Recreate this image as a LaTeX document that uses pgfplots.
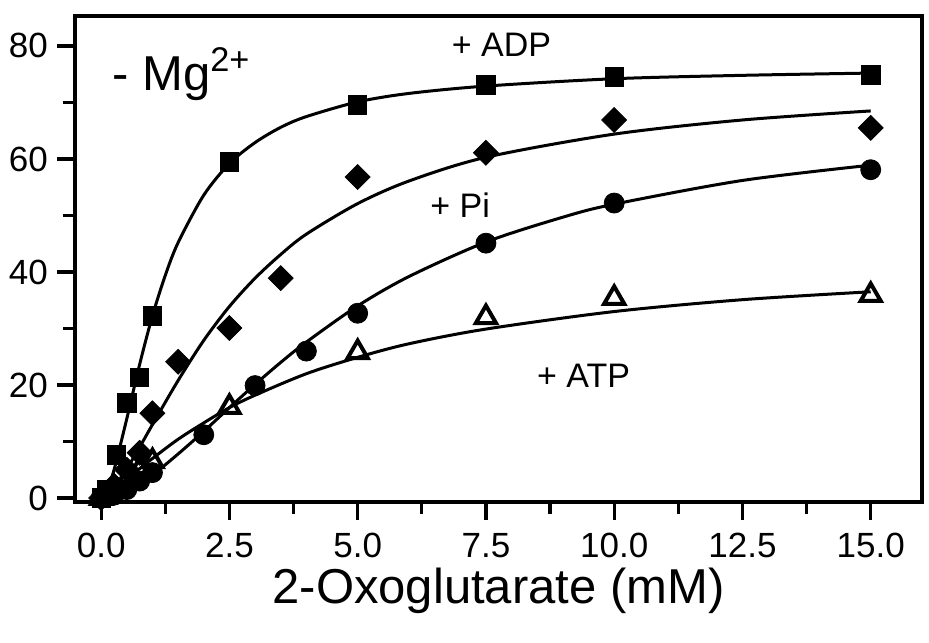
\documentclass[border=0pt]{standalone}
\usepackage{fontspec}
\setmainfont{Liberation Sans}
\usepackage{pgfplots}
\pgfplotsset{compat=1.18}

\begin{document}
\begin{tikzpicture}
\begin{axis}[
  name=ax,
  scale only axis, width=423.5pt, height=243pt,
  xmin=-0.51, xmax=16.0, ymin=-0.7, ymax=85.3,
  xtick={0,2.5,...,15}, ytick={0,20,...,80},
  minor x tick num=1, minor y tick num=1,
  tick align=outside, xtick pos=bottom, ytick pos=left,
  major tick length=9pt, minor tick length=6pt,
  axis line style={line width=2pt},
  every tick/.style={line width=1.6pt, black},
  tick label style={font=\fontsize{17.5}{20}\selectfont},
  yticklabel style={xshift=-1pt},
  x tick label style={yshift=-3pt, /pgf/number format/.cd, fixed, fixed zerofill, precision=1},
  /pgf/number format/assume math mode=true,
  xlabel={2-Oxoglutarate (mM)},
  xlabel style={font=\fontsize{24.5}{28}\selectfont, yshift=2pt},
  clip=false,
]
% + ADP
\addplot[black, smooth, line width=1.5pt] coordinates {
  (0,0) (0.1,1.1) (0.25,4.95) (0.5,14.05) (0.75,23.65) (1,32.26) (1.25,39.4)
  (1.5,45.2) (2,53.6) (2.5,59.2) (3,62.9) (3.5,65.6) (4,67.5) (5,70.1)
  (6,71.6) (7.5,72.9) (10,74.2) (12.5,74.8) (15,75.2)
};
\addplot[only marks, mark=square*, mark size=4.6pt, black] coordinates {
  (0,0) (0.1,1.5) (0.3,7.6) (0.5,16.8) (0.75,21.4) (1,32.2) (2.5,59.5)
  (5,69.6) (7.5,73.1) (10,74.5) (15,74.9)
};
% + Pi
\addplot[black, smooth, line width=1.5pt] coordinates {
  (0,0) (0.1,0.5) (0.25,1.92) (0.5,5.19) (0.75,9.01) (1,13.0) (1.5,20.8)
  (2,27.9) (2.5,33.9) (3,38.9) (3.5,43.1) (4,46.7) (5,52.1) (6,56.1)
  (7.5,60.3) (10,64.4) (12.5,66.9) (15,68.5)
};
\addplot[only marks, mark=square*, mark options={rotate=45}, mark size=4.4pt, black] coordinates {
  (0,0) (0.25,2.2) (0.5,5.0) (0.75,8.0) (1,15.0) (1.5,24.1) (2.5,30.1)
  (3.5,38.9) (5,56.8) (7.5,61.1) (10,66.9) (15,65.5)
};
% control (circles)
\addplot[black, smooth, line width=1.5pt] coordinates {
  (0,0) (0.25,0.41) (0.5,1.33) (1,4.1) (1.5,7.8) (2,11.8) (2.5,16.0)
  (3,20.1) (3.5,24.0) (4,27.6) (5,34.0) (6,39.2) (7.5,45.3) (9,49.7)
  (10,52.0) (12.5,56.2) (15,58.9)
};
\addplot[only marks, mark=*, mark size=5pt, black] coordinates {
  (0,0) (0.25,0.5) (0.5,1.5) (0.75,3.0) (1,4.5) (2,11.2) (3,19.9)
  (4,26.0) (5,32.7) (7.5,45.1) (10,52.2) (15,58.1)
};
% + ATP
\addplot[black, smooth, line width=1.5pt] coordinates {
  (0,0) (0.25,1.5) (0.5,3.35) (0.75,5.2) (1,7.0) (1.5,10.4) (2,13.3)
  (2.5,16.0) (3,18.2) (4,22.0) (5,24.9) (6,27.3) (7.5,29.9) (10,33.0)
  (12.5,35.1) (15,36.5)
};
\addplot[only marks, mark=triangle, mark size=5.8pt, mark options={line width=2pt, fill=white}, black] coordinates {
  (0,0) (0.25,1.5) (0.5,3.0) (0.75,5.0) (1,6.5) (2.5,16.1) (5,25.8)
  (7.5,32.0) (10,35.4) (15,35.9)
};
\node[anchor=base west, font=\fontsize{24.5}{28}\selectfont] at (axis cs:0.08,72.2) {- Mg\textsuperscript{2+}};
\node[anchor=base west, font=\fontsize{17}{19}\selectfont] at (axis cs:6.7,78.1) {+ ADP};
\node[anchor=base west, font=\fontsize{17}{19}\selectfont] at (axis cs:6.28,49.6) {+ Pi};
\node[anchor=base west, font=\fontsize{17}{19}\selectfont] at (axis cs:8.36,19.6) {+ ATP};
\end{axis}
\pgfresetboundingbox
\path[use as bounding box] ([xshift=-37.5pt,yshift=-70.5pt]ax.south west) rectangle ([xshift=3.5pt,yshift=8pt]ax.north east);
\end{tikzpicture}
\end{document}
